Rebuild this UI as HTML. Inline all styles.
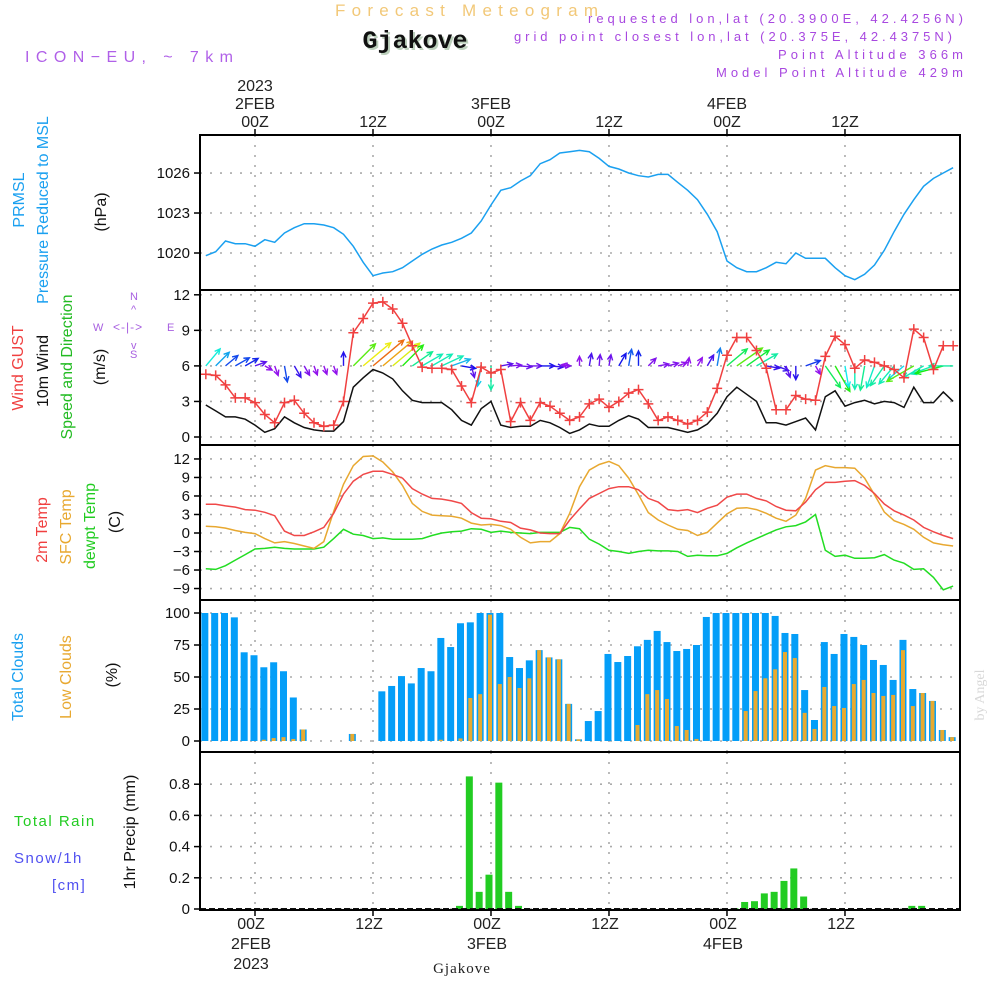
<!DOCTYPE html>
<html><head><meta charset="utf-8"><style>
html,body{margin:0;padding:0;background:#fff;}
svg{display:block;font-family:"Liberation Sans",sans-serif;}
</style></head><body>
<svg id="chart" width="1000" height="1000" viewBox="0 0 1000 1000" xmlns="http://www.w3.org/2000/svg">
<defs>
<clipPath id="c1"><rect x="200" y="135" width="760" height="155"/></clipPath>
<clipPath id="c2"><rect x="200" y="290" width="760" height="155"/></clipPath>
<clipPath id="c3"><rect x="200" y="445" width="760" height="155"/></clipPath>
<clipPath id="c4"><rect x="200" y="600" width="760" height="152"/></clipPath>
<clipPath id="c5"><rect x="200" y="752" width="760" height="158"/></clipPath>
</defs>
<text x="335" y="16" font-size="17" fill="#f2c878" textLength="263" lengthAdjust="spacing">Forecast Meteogram</text>
<text x="417" y="50" font-size="25" font-weight="bold" fill="#bcd0bc" text-anchor="middle" font-family="Liberation Mono, monospace">Gjakove</text>
<text x="415" y="48" font-size="25" font-weight="bold" fill="#111" text-anchor="middle" font-family="Liberation Mono, monospace">Gjakove</text>
<text x="25" y="62" font-size="16" fill="#b060e8" textLength="208" lengthAdjust="spacing">ICON−EU, ~ 7km</text>
<g font-size="13" fill="#a848e0" lengthAdjust="spacing">
<text x="588" y="23" textLength="375">requested lon,lat (20.3900E, 42.4256N)</text>
<text x="514" y="41" textLength="438">grid point closest lon,lat (20.375E, 42.4375N)</text>
<text x="778" y="59" textLength="185">Point Altitude 366m</text>
<text x="716" y="77" textLength="247">Model Point Altitude 429m</text>
</g>
<g id="grid"></g>
<g id="marks"></g>
<g id="frames" fill="none" stroke="#000" stroke-width="2"></g>
<g id="labels"></g>
<text x="984" y="695" font-size="14" fill="#d8d8d8" font-family="Liberation Serif, serif" transform="rotate(-90 984 695)" text-anchor="middle">by Angel</text>
<text x="462" y="973" font-size="15" fill="#222" font-family="Liberation Serif, serif" text-anchor="middle" letter-spacing="1">Gjakove</text>
</svg>
<script>
const hours=[];for(let h=-5;h<=71;h++)hours.push(h);
const pressure=[1019.8,1020.1,1020.9,1020.7,1020.7,1020.5,1021,1020.8,1021.5,1021.9,1022.2,1022.2,1022.1,1021.9,1021.4,1020.5,1019.3,1018.3,1018.5,1018.6,1018.9,1019.4,1019.9,1020.3,1020.6,1020.8,1021.1,1021.5,1022.4,1023.6,1024.7,1024.9,1025.4,1025.8,1026.7,1027,1027.5,1027.6,1027.7,1027.6,1027.1,1026.5,1026.3,1026,1025.8,1025.7,1025.9,1025.9,1025.3,1024.7,1024,1022.9,1021.6,1019.4,1018.9,1018.6,1018.6,1018.9,1019.3,1019.2,1020,1019.6,1019.6,1019.6,1018.9,1018.3,1018,1018.4,1019.1,1020.2,1021.6,1022.9,1024,1025,1025.6,1026,1026.4];
const gust=[5.3,5.2,4.4,3.3,3.3,2.9,1.9,1.2,2.9,3.1,2.0,1.2,0.9,1.0,3.0,8.8,10.0,11.3,11.4,10.8,9.6,7.7,5.9,5.8,5.8,5.7,4.3,2.9,5.9,5.4,5.7,1.3,2.9,1.4,2.9,2.6,2.0,1.4,1.7,2.8,3.2,2.5,3.0,3.7,4.0,2.8,1.4,1.7,1.4,1.1,1.4,2.1,4.1,6.9,8.4,8.4,7.3,5.8,2.3,2.3,3.5,3.2,3.1,6.8,8.5,7.8,5.8,6.5,6.3,6.0,5.7,5.0,9.1,8.4,5.7,7.7,7.7];
const wind=[2.7,2.2,1.7,1.7,1.5,1.0,0.4,0.7,1.7,1.2,0.8,0.6,0.5,0.5,1.3,4.2,5.0,5.7,5.4,4.9,3.9,3.1,2.9,2.9,2.9,2.3,1.4,1.0,2.4,3.0,1.0,0.8,0.9,0.9,1.4,1.2,0.8,0.3,0.6,1.1,0.9,0.9,1.4,1.8,1.5,0.8,0.8,0.8,0.6,0.4,0.6,1.1,2.0,3.4,4.2,3.6,3.0,1.2,1.2,1.0,1.3,1.6,0.6,3.4,3.9,2.6,2.9,3.1,2.8,3.0,2.9,2.5,4.2,2.9,2.9,3.8,3.0];
const windDir=[50,45,40,30,30,20,-30,-70,-80,-60,-60,-70,-70,-70,90,45,40,40,40,40,45,35,30,30,25,20,-10,-75,-100,-90,10,5,-5,0,0,-5,0,170,90,80,85,80,60,80,90,45,10,15,20,80,60,60,80,40,35,35,30,-10,-20,-70,-90,20,-60,-55,-60,-80,-90,-100,-110,-125,-130,-140,-150,-150,-160,-165,180];
const temp2m=[4.65,4.65,4.4,4.2,3.8,3.7,3.35,2.8,0.3,-0.4,-0.4,0.2,0.9,3.2,6.3,8.4,9.5,10.0,10.0,9.5,8.9,7.2,6.3,5.6,5.5,5.2,4.8,3.3,2.4,2.3,1.9,1.7,0.8,0.5,0,-0.1,-0.1,2.1,3.9,5.6,6.4,7.2,7.5,7.5,7.0,5.6,5.0,3.8,3.6,3.8,3.3,4.0,4.5,5.8,6.3,6.3,5.6,5.2,4.3,3.7,3.6,5.0,7.0,8.2,8.2,8.4,8.5,7.7,6.4,4.7,3.6,2.9,2.1,0.9,0.2,-0.4,-0.9];
const sfcTemp=[1.1,1.0,0.8,0.4,0.1,-0.1,-0.9,-1.6,-1.4,-1.7,-2.1,-2.5,-1.4,3.5,7.9,10.9,12.4,12.5,11.5,9.9,7.7,4.8,3.5,2.9,2.8,2.7,2.4,1.6,1.3,1.4,1.2,0.6,-0.7,-1.6,-1.4,-1.4,-0.1,3.2,7.5,10.2,11.1,11.6,10.9,8.9,6.2,3.3,2.1,1.3,0.6,0.4,-0.4,0.1,1.6,3.1,4.0,4.1,3.8,3.2,2.4,1.9,2.9,5.6,10.2,10.9,10.6,10.6,10.5,8.9,6.2,3.4,2.0,1.4,0.6,-0.7,-1.6,-1.9,-2.1];
const dewpt=[-5.8,-5.9,-5.3,-4.4,-3.5,-2.6,-2.5,-2.3,-2.5,-2.6,-2.6,-2.6,-2.3,-0.9,0.6,-0.2,-0.4,-0.9,-0.8,-1.0,-1.0,-1.0,-0.9,-0.4,0.0,0.2,0.3,0.7,0.6,0.1,0.3,0.1,0,-0.1,0.1,0.1,0.1,0.9,0.7,-1.0,-1.8,-2.8,-3.0,-3.3,-3.0,-2.8,-2.9,-2.9,-3.0,-3.8,-3.6,-3.7,-3.7,-3.3,-2.4,-1.6,-0.9,-0.2,0.5,1.0,1.2,1.8,3.0,-2.8,-3.8,-3.6,-4.1,-4.1,-4.0,-3.5,-4.4,-4.9,-5.9,-5.8,-7.2,-9.2,-8.6];
const totalClouds=[100,100,100,96.6,69.3,67,57.6,61.5,54.5,34,9,0,0,0,0,5.5,0,0,38.8,43,50.7,45,57,54.5,80.5,73.4,92,92.7,100,100,100,65.6,57,63,71,65.3,63.8,29,1.3,15.6,23.4,68,61.7,66.4,74,79,86,77.3,70.3,71.9,75,96.9,100,100,100,100,100,100,97.7,84.4,83.6,39.8,16.4,77.3,68,83.6,81.3,75,63.3,59.4,47.7,79,40.6,37.5,31.3,8.6,3];
const lowClouds=[0,0,0,0,0,0,1,2.3,3,1.6,9,0,0,0,0,5.5,0,0,0,0,0,0,0,0,1,0,2,33.6,36.6,98.7,44.5,50,41.4,49,71,65.3,63.8,29,1.3,0,0,0,0,0,12.5,36.6,39.8,32.8,11.7,8.6,1.6,0,0,0,0,23.4,39,49,56,69.5,64.8,22,9.4,42.2,27.3,25.8,44.5,47.7,37.5,35.2,36,71,27.3,37.5,31.3,8.6,3];
const rainHours=[21,22,23,24,25,26,27,49,50,51,52,53,54,55,56,67,68];
const rainValues=[0.02,0.85,0.11,0.22,0.81,0.11,0.02,0.005,0.045,0.05,0.1,0.11,0.18,0.26,0.08,0.02,0.02];
const pTicks=[1020,1023,1026];
const wTicks=[0,3,6,9,12];
const tTicks=[-9,-6,-3,0,3,6,9,12];
const cTicks=[0,25,50,75,100];
const rTicks=[0,0.2,0.4,0.6,0.8];
const timeTicks=[0,12,24,36,48,60];
const topLabels=[["2023","2FEB","00Z"],["12Z"],["3FEB","00Z"],["12Z"],["4FEB","00Z"],["12Z"]];
const bottomLabels=[["00Z","2FEB","2023"],["12Z"],["00Z","3FEB"],["12Z"],["00Z","4FEB"],["12Z"]];

const NS="http://www.w3.org/2000/svg";
const X=h=>255+h*9.833;
const yP=v=>253-(v-1020)*13.33;
const yW=v=>437-v*11.85;
const yT=v=>533-v*6.17;
const yC=v=>741-v*1.28;
const yR=v=>909-v*156;
function mk(tag,attrs,parent){const e=document.createElementNS(NS,tag);for(const k in attrs)e.setAttribute(k,attrs[k]);parent.appendChild(e);return e;}
const grid=document.getElementById('grid'),marks=document.getElementById('marks'),frames=document.getElementById('frames'),labels=document.getElementById('labels');
const panels=[[135,290,pTicks,yP,'c1'],[290,445,wTicks,yW,'c2'],[445,600,tTicks,yT,'c3'],[600,752,cTicks,yC,'c4'],[752,910,rTicks,yR,'c5']];
panels.forEach((p,i)=>{
  p[2].forEach(t=>{
    const y=p[3](t);
    const gl=mk('line',{x1:200,x2:960,y1:y,y2:y,stroke:'#aaa','stroke-width':1.6,'stroke-dasharray':'2 8'},grid);
    
    
    const tk=mk('line',{x1:194,x2:200,y1:y,y2:y,stroke:'#000','stroke-width':1.5},grid);
    
    
    const tx=mk('text',{x:190,y:y+5,'font-size':15,'text-anchor':'end',fill:'#111'},labels);
    tx.textContent=String(t).replace('-','−');
    
    
  });
  timeTicks.forEach(h=>{
    const vl=mk('line',{x1:X(h),x2:X(h),y1:p[0],y2:p[1],stroke:'#aaa','stroke-width':1.6,'stroke-dasharray':'2 8'},grid);
    
    
  });
  const fr=mk('rect',{x:200,y:p[0],width:760,height:p[1]-p[0]},frames);
  
  
});
timeTicks.forEach((h,i)=>{
  const t1=mk('line',{x1:X(h),x2:X(h),y1:129,y2:135,stroke:'#000','stroke-width':1.5},grid);
  
  
  const t2=mk('line',{x1:X(h),x2:X(h),y1:910,y2:916,stroke:'#000','stroke-width':1.5},grid);
  
  
  const tl=topLabels[i];
  tl.forEach((s,k)=>{const tx=mk('text',{x:X(h),y:127-(tl.length-1-k)*18,'font-size':16,'text-anchor':'middle',fill:'#222'},labels);tx.textContent=s;
    
    });
  bottomLabels[i].forEach((s,k)=>{const tx=mk('text',{x:X(h)-4,y:929+k*20,'font-size':16,'text-anchor':'middle',fill:'#222'},labels);tx.textContent=s;
    
    });
});
function line(vals,fy,color,clip,name,w){
  const d=vals.map((v,i)=>(i?'L':'M')+X(hours[i]).toFixed(1)+','+fy(v).toFixed(1)).join('');
  const p=mk('path',{d:d,fill:'none',stroke:color,'stroke-width':w||1.5,'clip-path':'url(#'+clip+')'},marks);
  
  
}
line(pressure,yP,'#1aa0f0','c1','pressure-line');
windDir.forEach((a,i)=>{
  const s=wind[i],x0=X(hours[i]),y0=yW(6),L=6+6*s,r=a*Math.PI/180;
  const x1=x0+L*Math.cos(r),y1=y0-L*Math.sin(r);
  const hue=Math.min(275,Math.max(25,310-50*s));
  const col='hsl('+hue+',85%,50%)';
  const h1=r+Math.PI-0.45,h2=r+Math.PI+0.45;
  const d='M'+x0+','+y0+'L'+x1+','+y1+'M'+(x1+6*Math.cos(h1))+','+(y1-6*Math.sin(h1))+'L'+x1+','+y1+'L'+(x1+6*Math.cos(h2))+','+(y1-6*Math.sin(h2));
  const p=mk('path',{d:d,fill:'none',stroke:col,'stroke-width':1.4,'clip-path':'url(#c2)'},marks);
  
  
});
line(wind,yW,'#111','c2','wind-speed-line');
line(gust,yW,'#f04040','c2','wind-gust-line');
gust.forEach((v,i)=>{
  const x=X(hours[i]),y=yW(v);
  const m=mk('path',{d:'M'+(x-5)+','+y+'h10M'+x+','+(y-5)+'v10',stroke:'#f04040','stroke-width':1.5,'clip-path':'url(#c2)'},marks);
  
  
});
line(dewpt,yT,'#22dd22','c3','dewpoint-line');
line(sfcTemp,yT,'#e8a830','c3','sfc-temp-line');
line(temp2m,yT,'#f04848','c3','temp-2m-line');
totalClouds.forEach((v,i)=>{
  const x=X(hours[i])-1;
  const b=mk('rect',{x:x-3.5,y:yC(v),width:7,height:741-yC(v),fill:'#049ef8','clip-path':'url(#c4)'},marks);
  
  
  const lv=lowClouds[i];
  if(lv>0){const o=mk('rect',{x:x-2,y:yC(lv),width:4,height:741-yC(lv),fill:'#e8aa30','clip-path':'url(#c4)'},marks);
  
  }
});
rainHours.forEach((h,i)=>{
  const x=X(h)-2,v=rainValues[i];
  const b=mk('rect',{x:x-3.5,y:yR(v),width:7,height:909-yR(v),fill:'#22cc22','clip-path':'url(#c5)'},marks);
  
  
});
const bl=mk('line',{x1:200,x2:960,y1:909,y2:909,stroke:'#111','stroke-width':2,'stroke-dasharray':'6 3'},marks);


function vt(x,y,txt,col,name,fs){const t=mk('text',{x:x,y:y,'font-size':fs||16,fill:col,'text-anchor':'middle',transform:'rotate(-90 '+x+' '+y+')'},labels);t.textContent=txt;
  
  }
vt(24,200,'PRMSL','#1aa0f0','prmsl-title');
vt(48,210,'Pressure Reduced to MSL','#1aa0f0','pressure-title');
vt(106,212,'(hPa)','#111','hpa-unit');
vt(23,368,'Wind GUST','#f04040','gust-title');
vt(48,371,'10m Wind','#111','wind-title');
vt(72,367,'Speed and Direction','#22bb22','direction-title');
vt(105,367,'(m/s)','#111','ms-unit');
vt(47,530,'2m Temp','#f04040','temp-title');
vt(71,527,'SFC Temp','#e8a830','sfc-title');
vt(95,526,'dewpt Temp','#22cc22','dewpt-title');
vt(120,522,'(C)','#111','c-unit');
vt(23,677,'Total Clouds','#1aa0f0','total-clouds-title');
vt(71,677,'Low Clouds','#e8a830','low-clouds-title');
vt(117,675,'(%)','#111','pct-unit');
vt(135,832,'1hr Precip (mm)','#111','precip-title');
function ht(x,y,txt,col,name,fs,ls){const t=mk('text',{x:x,y:y,'font-size':fs||16,fill:col,'letter-spacing':ls||1},labels);t.textContent=txt;
  
  }
ht(14,826,'Total   Rain','#22cc22','rain-legend',15,1.5);
ht(14,863,'Snow/1h','#5050f0','snow-legend',15,1.5);
ht(52,890,'[cm]','#5050f0','cm-legend',15,1.5);
ht(130,300,'N','#a860e0','compass-n',11,0);
ht(130,358,'S','#a860e0','compass-s',11,0);
ht(93,331,'W','#a860e0','compass-w',11,0);
ht(167,331,'E','#a860e0','compass-e',11,0);
ht(113,331,'<-|->','#a860e0','compass-ew',12,0);
ht(131,313,'^','#a860e0','compass-up',11,0);
ht(131,349,'v','#a860e0','compass-down',11,0);
</script>
</body></html>
